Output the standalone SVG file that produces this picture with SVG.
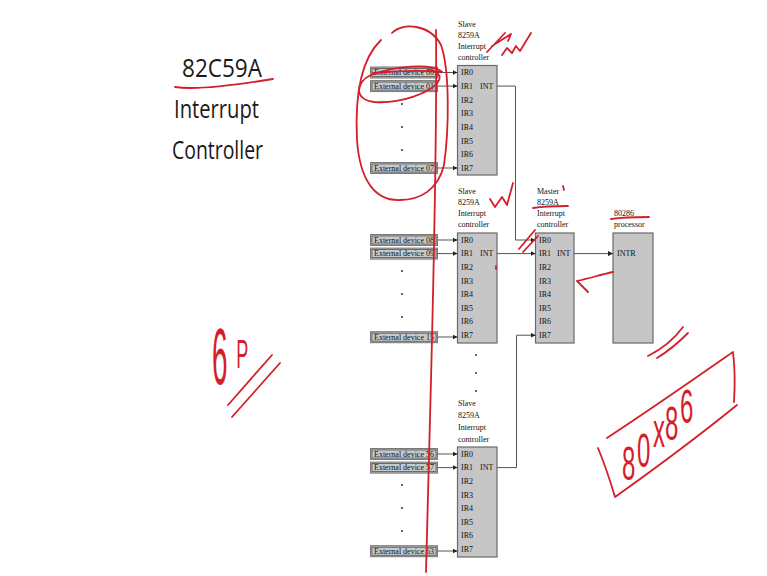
<svg xmlns="http://www.w3.org/2000/svg" width="767" height="576" viewBox="0 0 767 576">
<style>
.t{font-family:"Liberation Serif","Times New Roman",serif;font-size:8px;fill:#111}
.title{font-family:"Open Sans","Lato","Liberation Sans",sans-serif;font-size:26px;fill:#1a1a1a;text-anchor:middle}
.box{fill:#c6c6c6;stroke:#6a6a6a;stroke-width:1.2}
.dev{fill:#b0b0b0;stroke:#7a7a7a;stroke-width:1}
.devi{fill:#c9c9c9;stroke:#4a4a4a;stroke-width:0.7}
.wire{fill:none;stroke:#555;stroke-width:1}
.ink{fill:none;stroke:#d41f2b;stroke-width:1.8;stroke-linecap:round;stroke-linejoin:round}
.inkt{fill:#d41f2b;font-family:"Liberation Sans","DejaVu Sans",sans-serif}
.dot{fill:#333}
</style>
<defs>
<marker id="ah" viewBox="0 0 6 6" refX="6" refY="3" markerWidth="5" markerHeight="5" markerUnits="userSpaceOnUse" orient="auto">
<path d="M0,0 L6,3 L0,6 z" fill="#222"/>
</marker>
</defs>
<rect width="767" height="576" fill="#fff"/>

<g id="title">
<text class="title" x="222" y="77" textLength="80" lengthAdjust="spacingAndGlyphs">82C59A</text>
<text class="title" x="216.5" y="118" textLength="85" lengthAdjust="spacingAndGlyphs">Interrupt</text>
<text class="title" x="217.5" y="159" textLength="91" lengthAdjust="spacingAndGlyphs">Controller</text>
</g>

<!-- Slave 1 -->
<g id="slave1">
<text class="t" x="458" y="26.5">Slave</text>
<text class="t" x="458" y="37.5">8259A</text>
<text class="t" x="458" y="48.5">Interrupt</text>
<text class="t" x="458" y="60">controller</text>
<rect class="box" x="457.5" y="65.5" width="39.5" height="109.5"/>
<text class="t" x="461" y="75.3">IR0</text>
<text class="t" x="461" y="88.9">IR1</text>
<text class="t" x="461" y="102.6">IR2</text>
<text class="t" x="461" y="116.2">IR3</text>
<text class="t" x="461" y="129.9">IR4</text>
<text class="t" x="461" y="143.5">IR5</text>
<text class="t" x="461" y="157.1">IR6</text>
<text class="t" x="461" y="170.8">IR7</text>
<text class="t" x="480" y="88.9">INT</text>
</g>

<!-- Slave 2 -->
<g id="slave2">
<text class="t" x="458" y="193.5">Slave</text>
<text class="t" x="458" y="204.5">8259A</text>
<text class="t" x="458" y="215.5">Interrupt</text>
<text class="t" x="458" y="226.5">controller</text>
<rect class="box" x="457.5" y="233" width="39.5" height="110"/>
<text class="t" x="461" y="242.8">IR0</text>
<text class="t" x="461" y="256.4">IR1</text>
<text class="t" x="461" y="270">IR2</text>
<text class="t" x="461" y="283.6">IR3</text>
<text class="t" x="461" y="297.2">IR4</text>
<text class="t" x="461" y="310.8">IR5</text>
<text class="t" x="461" y="324.4">IR6</text>
<text class="t" x="461" y="338">IR7</text>
<text class="t" x="480" y="256.4">INT</text>
</g>

<!-- Slave 3 -->
<g id="slave3">
<text class="t" x="458" y="405.5">Slave</text>
<text class="t" x="458" y="417.5">8259A</text>
<text class="t" x="458" y="429.5">Interrupt</text>
<text class="t" x="458" y="441.5">controller</text>
<rect class="box" x="457.5" y="447" width="39.5" height="110"/>
<text class="t" x="461" y="456.8">IR0</text>
<text class="t" x="461" y="470.4">IR1</text>
<text class="t" x="461" y="484">IR2</text>
<text class="t" x="461" y="497.6">IR3</text>
<text class="t" x="461" y="511.2">IR4</text>
<text class="t" x="461" y="524.8">IR5</text>
<text class="t" x="461" y="538.4">IR6</text>
<text class="t" x="461" y="552">IR7</text>
<text class="t" x="480" y="470.4">INT</text>
</g>

<!-- Master -->
<g id="master">
<text class="t" x="537" y="193.5">Master</text>
<text class="t" x="537" y="204.5">8259A</text>
<text class="t" x="537" y="215.5">Interrupt</text>
<text class="t" x="537" y="226.5">controller</text>
<rect class="box" x="535.5" y="233" width="38.5" height="110"/>
<text class="t" x="539" y="242.8">IR0</text>
<text class="t" x="539" y="256.4">IR1</text>
<text class="t" x="539" y="270">IR2</text>
<text class="t" x="539" y="283.6">IR3</text>
<text class="t" x="539" y="297.2">IR4</text>
<text class="t" x="539" y="310.8">IR5</text>
<text class="t" x="539" y="324.4">IR6</text>
<text class="t" x="539" y="338">IR7</text>
<text class="t" x="557" y="256.4">INT</text>
</g>

<!-- Processor -->
<g id="processor">
<text class="t" x="614" y="215.5">80286</text>
<text class="t" x="614" y="226.5">processor</text>
<rect class="box" x="613" y="233" width="40" height="110"/>
<text class="t" x="617" y="256.4">INTR</text>
</g>

<!-- External devices -->
<g id="dev00"><rect class="dev" x="370.5" y="67" width="67" height="11"/><rect class="devi" x="372" y="68.5" width="64" height="8"/><text class="t" x="374" y="75.3">External device 00</text></g>
<g id="dev01"><rect class="dev" x="370.5" y="80.6" width="67" height="11"/><rect class="devi" x="372" y="82.1" width="64" height="8"/><text class="t" x="374" y="88.9">External device 01</text></g>
<g id="dev07"><rect class="dev" x="370.5" y="162.5" width="67" height="11"/><rect class="devi" x="372" y="164" width="64" height="8"/><text class="t" x="374" y="170.8">External device 07</text></g>
<g id="dev08"><rect class="dev" x="370.5" y="234.5" width="67" height="11"/><rect class="devi" x="372" y="236" width="64" height="8"/><text class="t" x="374" y="242.8">External device 08</text></g>
<g id="dev09"><rect class="dev" x="370.5" y="248.1" width="67" height="11"/><rect class="devi" x="372" y="249.6" width="64" height="8"/><text class="t" x="374" y="256.4">External device 09</text></g>
<g id="dev15"><rect class="dev" x="370.5" y="331.7" width="67" height="11"/><rect class="devi" x="372" y="333.2" width="64" height="8"/><text class="t" x="374" y="340">External device 15</text></g>
<g id="dev56"><rect class="dev" x="370.5" y="448.5" width="67" height="11"/><rect class="devi" x="372" y="450" width="64" height="8"/><text class="t" x="374" y="456.8">External device 56</text></g>
<g id="dev57"><rect class="dev" x="370.5" y="462.1" width="67" height="11"/><rect class="devi" x="372" y="463.6" width="64" height="8"/><text class="t" x="374" y="470.4">External device 57</text></g>
<g id="dev63"><rect class="dev" x="370.5" y="545.7" width="67" height="11"/><rect class="devi" x="372" y="547.2" width="64" height="8"/><text class="t" x="374" y="554">External device 63</text></g>

<g id="dots">
<circle class="dot" cx="402" cy="104" r="1"/><circle class="dot" cx="402" cy="127" r="1"/><circle class="dot" cx="402" cy="150" r="1"/>
<circle class="dot" cx="402" cy="271" r="1"/><circle class="dot" cx="402" cy="294" r="1"/><circle class="dot" cx="402" cy="317" r="1"/>
<circle class="dot" cx="476" cy="355" r="1"/><circle class="dot" cx="476" cy="373" r="1"/><circle class="dot" cx="476" cy="391" r="1"/>
<circle class="dot" cx="402" cy="485" r="1"/><circle class="dot" cx="402" cy="508" r="1"/><circle class="dot" cx="402" cy="531" r="1"/>
</g>

<g id="connectors">
<path class="wire" marker-end="url(#ah)" d="M437.5,72.5 H457.5"/>
<path class="wire" marker-end="url(#ah)" d="M437.5,86.1 H457.5"/>
<path class="wire" marker-end="url(#ah)" d="M437.5,168 H457.5"/>
<path class="wire" marker-end="url(#ah)" d="M437.5,240 H457.5"/>
<path class="wire" marker-end="url(#ah)" d="M437.5,253.6 H457.5"/>
<path class="wire" marker-end="url(#ah)" d="M437.5,337 H457.5"/>
<path class="wire" marker-end="url(#ah)" d="M437.5,454 H457.5"/>
<path class="wire" marker-end="url(#ah)" d="M437.5,467.6 H457.5"/>
<path class="wire" marker-end="url(#ah)" d="M437.5,551 H457.5"/>
<path class="wire" marker-end="url(#ah)" d="M497,86.1 H515.5 V240 H535.5"/>
<path class="wire" marker-end="url(#ah)" d="M497,253.6 H535.5"/>
<path class="wire" marker-end="url(#ah)" d="M497,467.6 H516.5 V335.2 H535.5"/>
<path class="wire" marker-end="url(#ah)" d="M574,253.6 H613"/>
</g>

<g id="annotations">
<path class="ink" d="M175,87 C195,90 225,87 273,79"/>
<path class="ink" d="M392,33 C402,22 430,24 441,45 C450,70 449,130 444,165 C438,190 420,200 400,200 C376,201 360,182 357,140 C355,100 360,60 381,40"/>
<path class="ink" d="M436,30 C437,120 434,260 431,380 C429,470 427,530 426,572"/>
<path class="ink" d="M441,71 C430,63 395,66 371,75 C355,82 354,100 374,102 C400,104 430,93 438,82 C442,76 438,71 428,70"/>
<path class="ink" d="M373,73 C395,71 420,70 442,72"/>
<path class="ink" d="M487,52 L505,33 M492,46 L511,34 L508,41 M502,55 L507,48 L512,53 L516,46 L520,51 L531,33"/>
<path class="ink" d="M490,199 L495,207 L502,197 L507,205 L513,183"/>
<path class="ink" d="M519,249 L535,230 M523,252 L538,236"/>
<path class="ink" d="M533,208 C545,206 558,206 568,206"/>
<path class="ink" d="M563,186 L564,190"/>
<path class="ink" d="M611,219 C625,217 638,217 649,217"/>
<path class="ink" d="M613,272 C600,275 590,278 577,281 L588,292"/>
<path class="ink" d="M496,266 L496,269"/>
<path class="ink" d="M648,356 C660,350 672,342 683,327 M657,358 C667,352 677,344 688,333"/>
<path class="ink" d="M607,438 C650,410 700,375 733,352 C735,368 735,386 734,402 M615,497 C660,465 700,435 737,405 M598,448 C605,465 610,480 615,497"/>
<path class="ink" d="M228,405 L272,355 M232,417 L280,363"/>
<g transform="scale(0.5,1)">
<text class="inkt" font-size="48" x="1244 1274 1306 1330 1360" y="480 467 447 440 423">80x86</text>
</g>
<g transform="scale(0.35,1)">
<text class="inkt" font-size="80" x="606" y="384">6</text>
</g>
<g transform="scale(0.45,1)">
<text class="inkt" font-size="40" x="525" y="368">P</text>
</g>
</g>
</svg>
